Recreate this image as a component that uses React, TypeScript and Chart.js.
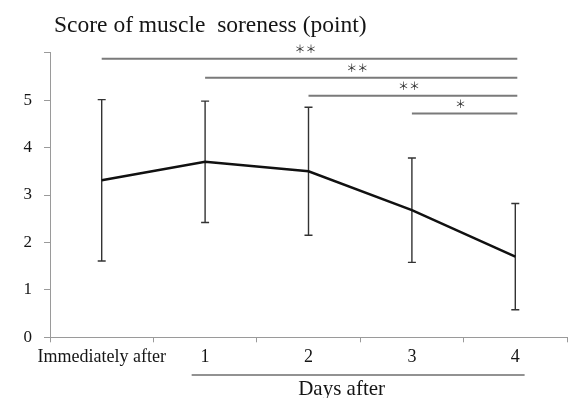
import React, { useEffect, useRef } from "react";
import { Chart, registerables } from "chart.js";

Chart.register(...registerables);

// Muscle soreness score (mean ± SD) over the recovery period
const categories = ["Immediately after", "1", "2", "3", "4"];
const meanScore = [3.31, 3.7, 3.5, 2.68, 1.7];
const sdScore = [1.7, 1.28, 1.35, 1.1, 1.12];
const yTicks = [0, 1, 2, 3, 4, 5, 6];

// Significance brackets: from category index to the last day, with their level on the score axis
const sigFrom = [0, 1, 2, 3];
const sigTo = [4, 4, 4, 4];
const sigLevel = [5.87, 5.47, 5.09, 4.72];
const sigMarks = ["＊＊", "＊＊", "＊＊", "＊"];

const titleText = "Score of muscle  soreness (point)";
const groupLabel = "Days after";
const groupSpan = [0.87, 4.09];
const groupLabelAt = 2.32;

const SERIF = "'Liberation Serif', 'Times New Roman', serif";

const errorBars = {
  id: "errorBars",
  beforeDatasetsDraw(chart: any) {
    const { ctx, scales } = chart;
    const x = scales.x;
    const y = scales.y;
    ctx.save();
    ctx.strokeStyle = "#333";
    ctx.lineWidth = 1.4;
    meanScore.forEach((m, i) => {
      const px = x.getPixelForValue(i);
      const top = y.getPixelForValue(m + sdScore[i]);
      const bot = y.getPixelForValue(m - sdScore[i]);
      ctx.beginPath();
      ctx.moveTo(px, top);
      ctx.lineTo(px, bot);
      ctx.moveTo(px - 4, top);
      ctx.lineTo(px + 4, top);
      ctx.moveTo(px - 4, bot);
      ctx.lineTo(px + 4, bot);
      ctx.stroke();
    });
    ctx.restore();
  },
};

const decorations = {
  id: "decorations",
  afterDraw(chart: any) {
    const { ctx, scales } = chart;
    const x = scales.x;
    const y = scales.y;
    ctx.save();

    // title
    ctx.fillStyle = "#151515";
    ctx.font = `23.5px ${SERIF}`;
    ctx.textAlign = "left";
    ctx.textBaseline = "alphabetic";
    ctx.fillText(titleText, 54, 32);

    // significance brackets
    ctx.strokeStyle = "#7a7a7a";
    ctx.lineWidth = 2;
    sigFrom.forEach((from, i) => {
      const x0 = x.getPixelForValue(from);
      const x1 = x.getPixelForValue(sigTo[i]) + 2;
      const py = y.getPixelForValue(sigLevel[i]);
      ctx.beginPath();
      ctx.moveTo(x0, py);
      ctx.lineTo(x1, py);
      ctx.stroke();
      ctx.fillStyle = "#2a2a2a";
      ctx.font = `11px 'Noto Sans CJK JP', sans-serif`;
      ctx.textAlign = "center";
      ctx.textBaseline = "middle";
      ctx.fillText(sigMarks[i], (x0 + x1) / 2 - 4, py - 10);
    });

    // "Days after" grouping line and label
    const gy = chart.height - 23;
    ctx.strokeStyle = "#6e6e6e";
    ctx.lineWidth = 1.5;
    ctx.beginPath();
    ctx.moveTo(x.getPixelForValue(groupSpan[0]), gy);
    ctx.lineTo(x.getPixelForValue(groupSpan[1]), gy);
    ctx.stroke();
    ctx.fillStyle = "#151515";
    ctx.font = `21px ${SERIF}`;
    ctx.textAlign = "center";
    ctx.textBaseline = "alphabetic";
    ctx.fillText(groupLabel, x.getPixelForValue(groupLabelAt), chart.height - 3);

    ctx.restore();
  },
};

export default function App() {
  const ref = useRef<HTMLCanvasElement | null>(null);

  useEffect(() => {
    if (!ref.current) return;
    const chart = new Chart(ref.current, {
      type: "line",
      data: {
        labels: categories,
        datasets: [
          {
            data: meanScore,
            borderColor: "#111",
            borderWidth: 2.5,
            pointRadius: 0,
            tension: 0,
            fill: false,
          },
        ],
      },
      options: {
        animation: false,
        responsive: false,
        maintainAspectRatio: false,
        layout: { padding: { top: 52.7, left: 0, right: 15, bottom: 0 } },
        plugins: {
          legend: { display: false },
          title: { display: false },
          tooltip: { enabled: false },
        },
        scales: {
          x: {
            type: "category",
            offset: true,
            grid: {
              offset: true,
              drawOnChartArea: false,
              drawTicks: true,
              tickLength: 5,
              color: "#9a9a9a",
            },
            border: { color: "#9a9a9a", width: 1 },
            ticks: {
              color: "#151515",
              font: { family: SERIF, size: 18 },
              padding: 4,
              maxRotation: 0,
              autoSkip: false,
            },
            afterFit(scale: any) {
              scale.height = 398 - 337.3;
            },
          },
          y: {
            min: 0,
            max: 6,
            afterBuildTicks(scale: any) {
              scale.ticks = yTicks.map((v) => ({ value: v }));
            },
            grid: {
              drawOnChartArea: false,
              drawTicks: true,
              tickLength: 6,
              color: "#9a9a9a",
            },
            border: { color: "#9a9a9a", width: 1 },
            ticks: {
              color: "#151515",
              font: { family: SERIF, size: 17 },
              padding: 12,
              callback: (v: any) => (Number(v) === 6 ? "" : String(v)),
            },
            afterFit(scale: any) {
              scale.width = 50;
            },
          },
        },
      },
      plugins: [errorBars, decorations],
    });
    return () => chart.destroy();
  }, []);

  return (
    <div style={{ position: "absolute", left: 0, top: 0, width: 582, height: 398, background: "#fff" }}>
      <canvas ref={ref} width={582} height={398} style={{ display: "block" }} />
    </div>
  );
}
